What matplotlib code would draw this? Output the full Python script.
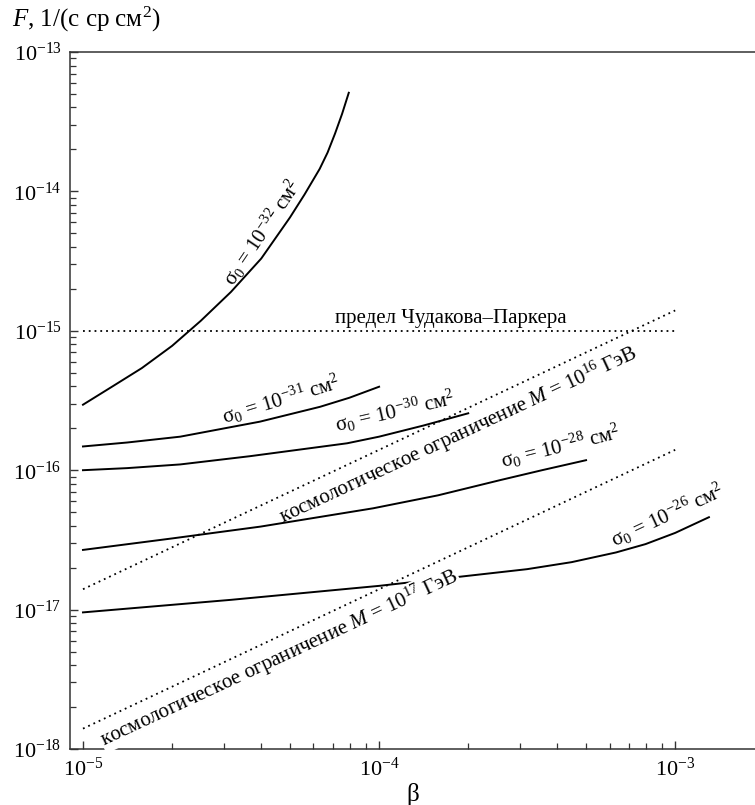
import matplotlib
matplotlib.use("Agg")
import matplotlib.pyplot as plt

plt.rcParams['font.family'] = 'serif'
plt.rcParams['font.serif'] = ['Liberation Serif', 'DejaVu Serif']
plt.rcParams['mathtext.fontset'] = 'custom'
plt.rcParams['mathtext.rm'] = 'Liberation Serif'
plt.rcParams['mathtext.it'] = 'Liberation Serif:italic'

# curves sigma_0 = 10^-32 ... 10^-26 cm^2
beta_32 = [1.0e-5, 1.26e-5, 1.58e-5, 2.0e-5, 2.5e-5, 3.16e-5, 4.0e-5, 5.0e-5,
           5.6e-5, 6.3e-5, 6.7e-5, 7.1e-5, 7.5e-5, 7.9e-5]
flux_32 = [2.95e-16, 4.0e-16, 5.4e-16, 7.8e-16, 1.18e-15, 1.9e-15, 3.3e-15,
           6.5e-15, 9.5e-15, 1.45e-14, 1.9e-14, 2.6e-14, 3.6e-14, 5.1e-14]

beta_31 = [1.0e-5, 1.41e-5, 2.13e-5, 3.96e-5, 6.32e-5, 7.94e-5, 1.0e-4]
flux_31 = [1.48e-16, 1.58e-16, 1.74e-16, 2.23e-16, 2.85e-16, 3.31e-16, 3.97e-16]

beta_30 = [1.0e-5, 1.41e-5, 2.13e-5, 3.66e-5, 7.8e-5, 1.0e-4, 1.41e-4, 2.0e-4]
flux_30 = [1.0e-16, 1.035e-16, 1.1e-16, 1.26e-16, 1.56e-16, 1.74e-16, 2.09e-16, 2.56e-16]

beta_28 = [1.0e-5, 2.0e-5, 3.98e-5, 9.55e-5, 1.58e-4, 2.57e-4, 3.55e-4, 5.0e-4]
flux_28 = [2.68e-17, 3.24e-17, 3.94e-17, 5.33e-17, 6.6e-17, 8.5e-17, 1.0e-16, 1.18e-16]

beta_26 = [1.0e-5, 3.16e-5, 1.0e-4, 1.78e-4, 3.16e-4, 4.47e-4, 6.31e-4, 7.94e-4,
           1.0e-3, 1.3e-3]
flux_26 = [9.55e-18, 1.175e-17, 1.48e-17, 1.7e-17, 1.95e-17, 2.19e-17, 2.57e-17,
           2.95e-17, 3.55e-17, 4.6e-17]

# limits (dotted)
beta_lim = [1.0e-5, 1.0e-3]
flux_parker = [1.0e-15, 1.0e-15]
flux_m16 = [1.4e-17, 1.4e-15]
flux_m17 = [1.4e-18, 1.4e-16]

x_ticks = [1e-5, 1e-4, 1e-3]
y_ticks = [1e-18, 1e-17, 1e-16, 1e-15, 1e-14, 1e-13]

fig = plt.figure(figsize=(7.55, 8.05), dpi=100)
ax = fig.add_axes([70 / 755, 1 - 749 / 805, 1 - 70 / 755, (749 - 52) / 805])
ax.set_xscale('log')
ax.set_yscale('log')
ax.set_xticks(x_ticks)
ax.set_yticks(y_ticks)
ax.set_xlim(9.04e-6, 1.86e-3)
ax.set_ylim(1e-18, 1e-13)

solid = dict(color='black', lw=1.4, zorder=2)
for b, f in [(beta_32, flux_32), (beta_31, flux_31), (beta_30, flux_30),
             (beta_28, flux_28), (beta_26, flux_26)]:
    ax.plot(b, f, **solid)

dots = dict(color='black', lw=1.3, linestyle=(0, (1, 2.2)), zorder=4)
ax.plot(beta_lim, flux_parker, **dots)
ax.plot(beta_lim, flux_m16, **dots)
ax.plot(beta_lim, flux_m17, **dots)

fs = 15
ax.text(4.03e-5, 5.1e-15, r'σ$_0$ = 10$^{-32}$ см$^2$', rotation=56,
        ha='center', va='center', fontsize=fs)
ax.text(1.74e-4, 1.14e-15, 'предел Чудакова–Паркера', ha='center',
        va='baseline', fontsize=fs)
ax.text(4.67e-5, 3.19e-16, r'σ$_0$ = 10$^{-31}$ см$^2$', rotation=17,
        ha='center', va='center', fontsize=fs)
ax.text(1.13e-4, 2.62e-16, r'σ$_0$ = 10$^{-30}$ см$^2$', rotation=13,
        ha='center', va='center', fontsize=fs)
ax.text(1.85e-4, 1.79e-16, r'космологическое ограничение $M$ = 10$^{16}$ ГэВ',
        rotation=25, ha='center', va='center', fontsize=fs)
ax.text(4.08e-4, 1.47e-16, r'σ$_0$ = 10$^{-28}$ см$^2$', rotation=14,
        ha='center', va='center', fontsize=fs)
ax.text(4.6e-5, 4.5e-18, r'космологическое ограничение $M$ = 10$^{17}$ ГэВ',
        rotation=25, ha='center', va='center', fontsize=fs, zorder=3,
        bbox=dict(facecolor='white', edgecolor='none', pad=0.5))
ax.text(9.4e-4, 4.77e-17, r'σ$_0$ = 10$^{-26}$ см$^2$', rotation=25,
        ha='center', va='center', fontsize=fs)

ax.spines['right'].set_visible(False)
for side in ['left', 'bottom', 'top']:
    ax.spines[side].set_color('#333333')
    ax.spines[side].set_linewidth(1.1)

ax.tick_params(which='both', direction='in', top=False, right=False,
               labelsize=16, colors='#333333', labelcolor='black')
ax.tick_params(which='major', length=6, width=1.0, pad=6)
ax.tick_params(which='minor', length=4, width=0.9)

ax.set_xlabel('β', fontsize=18, labelpad=2)
fig.text(12 / 755, 1 - 27 / 805, r'$F$, 1/(с ср см$^2$)', fontsize=18,
         ha='left', va='baseline')

fig.savefig('out.png', dpi=100)
